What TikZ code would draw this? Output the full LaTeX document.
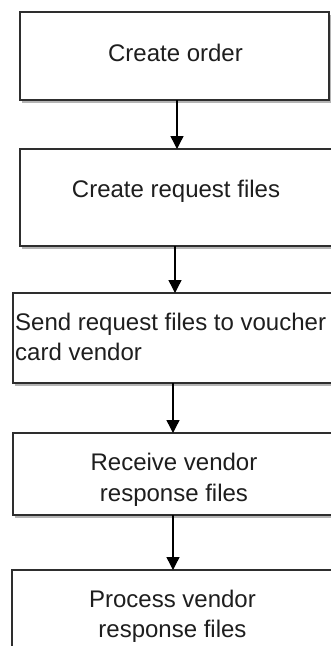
\documentclass[tikz,border=0pt]{standalone}
\usepackage{fontspec}
\setmainfont{Liberation Sans}
\usetikzlibrary{arrows.meta,shadows}
\definecolor{edgec}{HTML}{2E2E2E}
\definecolor{shadc}{HTML}{B4B4B4}
\definecolor{txtc}{HTML}{1E1E1E}
\tikzset{
  stepbox/.style={draw=edgec, line width=1.4pt, fill=white, anchor=north west,
    inner sep=0pt, outer sep=0pt,
    drop shadow={shadow xshift=2pt, shadow yshift=-2.5pt, fill=shadc, opacity=1}},
  lbl/.style={anchor=base, inner sep=0pt, text=txtc, font=\fontsize{24}{30}\selectfont},
  flow/.style={draw=black, line width=1.4pt, -{Triangle[width=13pt,length=13pt]}},
}
\begin{document}
\begin{tikzpicture}[x=1pt,y=-1pt]
\useasboundingbox (0,0) rectangle (331,646);
\clip (0,0) rectangle (331,646);
\node[stepbox, minimum width=309pt, minimum height=88pt] (b1) at (20,12) {};
\node[stepbox, minimum width=330pt, minimum height=97pt] (b2) at (20,149) {};
\node[stepbox, minimum width=335pt, minimum height=90pt] (b3) at (13,293) {};
\node[stepbox, minimum width=335pt, minimum height=82pt] (b4) at (13,433) {};
\node[stepbox, minimum width=335pt, minimum height=100pt] (b5) at (12,570) {};

\node[lbl] (t1) at (175.5,61) {Create order};
\node[lbl] (t2) at (176,197) {Create request files};
\node[lbl, anchor=base west] (t3a) at (15,330) {Send request files to voucher};
\node[lbl, anchor=base west] (t3b) at (15,360) {card vendor};
\node[lbl] (t4a) at (174,470) {Receive vendor};
\node[lbl] (t4b) at (174,501) {response files};
\node[lbl] (t5a) at (172.5,607) {Process vendor};
\node[lbl] (t5b) at (172.5,637) {response files};

\coordinate (x1) at (177,0);
\coordinate (x2) at (175,0);
\coordinate (x3) at (173,0);
\coordinate (x4) at (173,0);
\draw[flow] (b1.south -| x1) -- (b2.north -| x1);
\draw[flow] (b2.south -| x2) -- (b3.north -| x2);
\draw[flow] (b3.south -| x3) -- (b4.north -| x3);
\draw[flow] (b4.south -| x4) -- (b5.north -| x4);
\end{tikzpicture}
\end{document}
